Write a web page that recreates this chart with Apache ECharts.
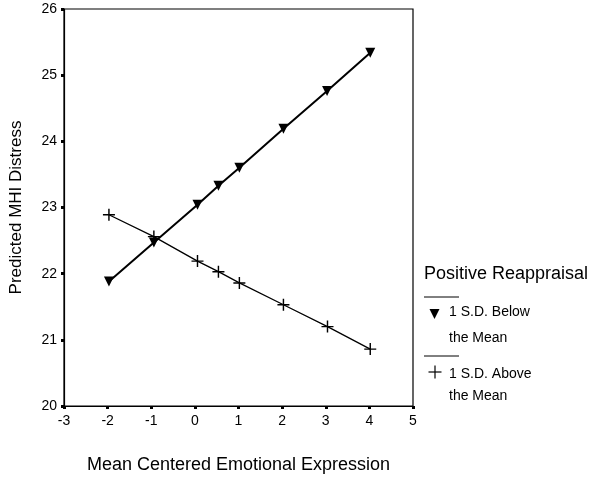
<!DOCTYPE html>
<html><head><meta charset="utf-8">
<script src="https://cdn.jsdelivr.net/npm/echarts@6/dist/echarts.min.js"></script>
<style>html,body{margin:0;padding:0;background:#fff}#c{width:600px;height:481px}</style>
</head><body><div id="c"></div>
<script>
const xBelow = [-1.97, -0.94, 0.06, 0.54, 1.02, 2.03, 3.03, 4.02];
const yBelow = [21.88, 22.47, 23.04, 23.33, 23.60, 24.19, 24.76, 25.34];
const xAbove = [-1.97, -0.94, 0.06, 0.54, 1.02, 2.03, 3.04, 4.02];
const yAbove = [22.89, 22.56, 22.19, 22.03, 21.86, 21.53, 21.20, 20.86];
const legendTitle = 'Positive Reappraisal';
const nameBelow = ['1 S.D. Below', 'the Mean'];
const nameAbove = ['1 S.D. Above', 'the Mean'];
const font = 'Liberation Sans, Arial, sans-serif';
const plusPath = 'path://M0,4.4h10v1.2h-10z M4.4,0h1.2v10h-1.2z';

const chart = echarts.init(document.getElementById('c'));
chart.setOption({
  animation: false,
  backgroundColor: '#fff',
  grid: {left: 63, right: 187, top: 9, bottom: 75, show: true, borderColor: '#000', borderWidth: 1.2},
  xAxis: {
    type: 'value', min: -3, max: 5, interval: 1,
    name: 'Mean Centered Emotional Expression', nameLocation: 'middle', nameGap: 50,
    nameTextStyle: {fontFamily: font, fontSize: 18, color: '#000'},
    axisLine: {onZero: false, lineStyle: {color: '#000', width: 1.2}},
    axisTick: {length: 3, lineStyle: {color: '#000', width: 3}},
    axisLabel: {fontFamily: font, fontSize: 14, color: '#000', margin: 8},
    splitLine: {show: false}
  },
  yAxis: {
    type: 'value', min: 20, max: 26, interval: 1,
    name: 'Predicted MHI Distress', nameLocation: 'middle', nameGap: 39,
    nameTextStyle: {fontFamily: font, fontSize: 17, color: '#000'},
    axisLine: {onZero: false, lineStyle: {color: '#000', width: 1.2}},
    axisTick: {length: 3, lineStyle: {color: '#000', width: 3}},
    axisLabel: {fontFamily: font, fontSize: 14, color: '#000', margin: 7},
    splitLine: {show: false}
  },
  series: [
    {
      type: 'line', name: '1 S.D. Below the Mean',
      data: xBelow.map((x, i) => [x, yBelow[i]]),
      symbol: 'triangle', symbolRotate: 180, symbolSize: 10, showAllSymbol: true,
      lineStyle: {color: '#000', width: 2}, itemStyle: {color: '#000'}, z: 3
    },
    {
      type: 'line', name: '1 S.D. Above the Mean',
      data: xAbove.map((x, i) => [x, yAbove[i]]),
      symbol: plusPath, symbolSize: 12, showAllSymbol: true,
      lineStyle: {color: '#000', width: 1.3}, itemStyle: {color: '#000'}, z: 2
    }
  ],
  graphic: [
    {type: 'text', left: 424, top: 265, style: {text: legendTitle, font: '18px ' + font, fill: '#000'}},
    {type: 'line', shape: {x1: 424, y1: 297, x2: 459, y2: 297}, style: {stroke: '#000', lineWidth: 1}},
    {type: 'polygon', shape: {points: [[429.5, 309], [439.5, 309], [434.5, 319]]}, style: {fill: '#000'}},
    {type: 'text', left: 449, top: 305, style: {text: nameBelow[0], font: '14px ' + font, fill: '#000'}},
    {type: 'text', left: 449, top: 331, style: {text: nameBelow[1], font: '14px ' + font, fill: '#000'}},
    {type: 'line', shape: {x1: 424, y1: 356, x2: 459, y2: 356}, style: {stroke: '#000', lineWidth: 1}},
    {type: 'line', shape: {x1: 428.5, y1: 372, x2: 441.5, y2: 372}, style: {stroke: '#000', lineWidth: 1.2}},
    {type: 'line', shape: {x1: 435, y1: 365.5, x2: 435, y2: 378.5}, style: {stroke: '#000', lineWidth: 1.2}},
    {type: 'text', left: 449, top: 367, style: {text: nameAbove[0], font: '14px ' + font, fill: '#000'}},
    {type: 'text', left: 449, top: 389, style: {text: nameAbove[1], font: '14px ' + font, fill: '#000'}}
  ]
});
</script></body></html>
